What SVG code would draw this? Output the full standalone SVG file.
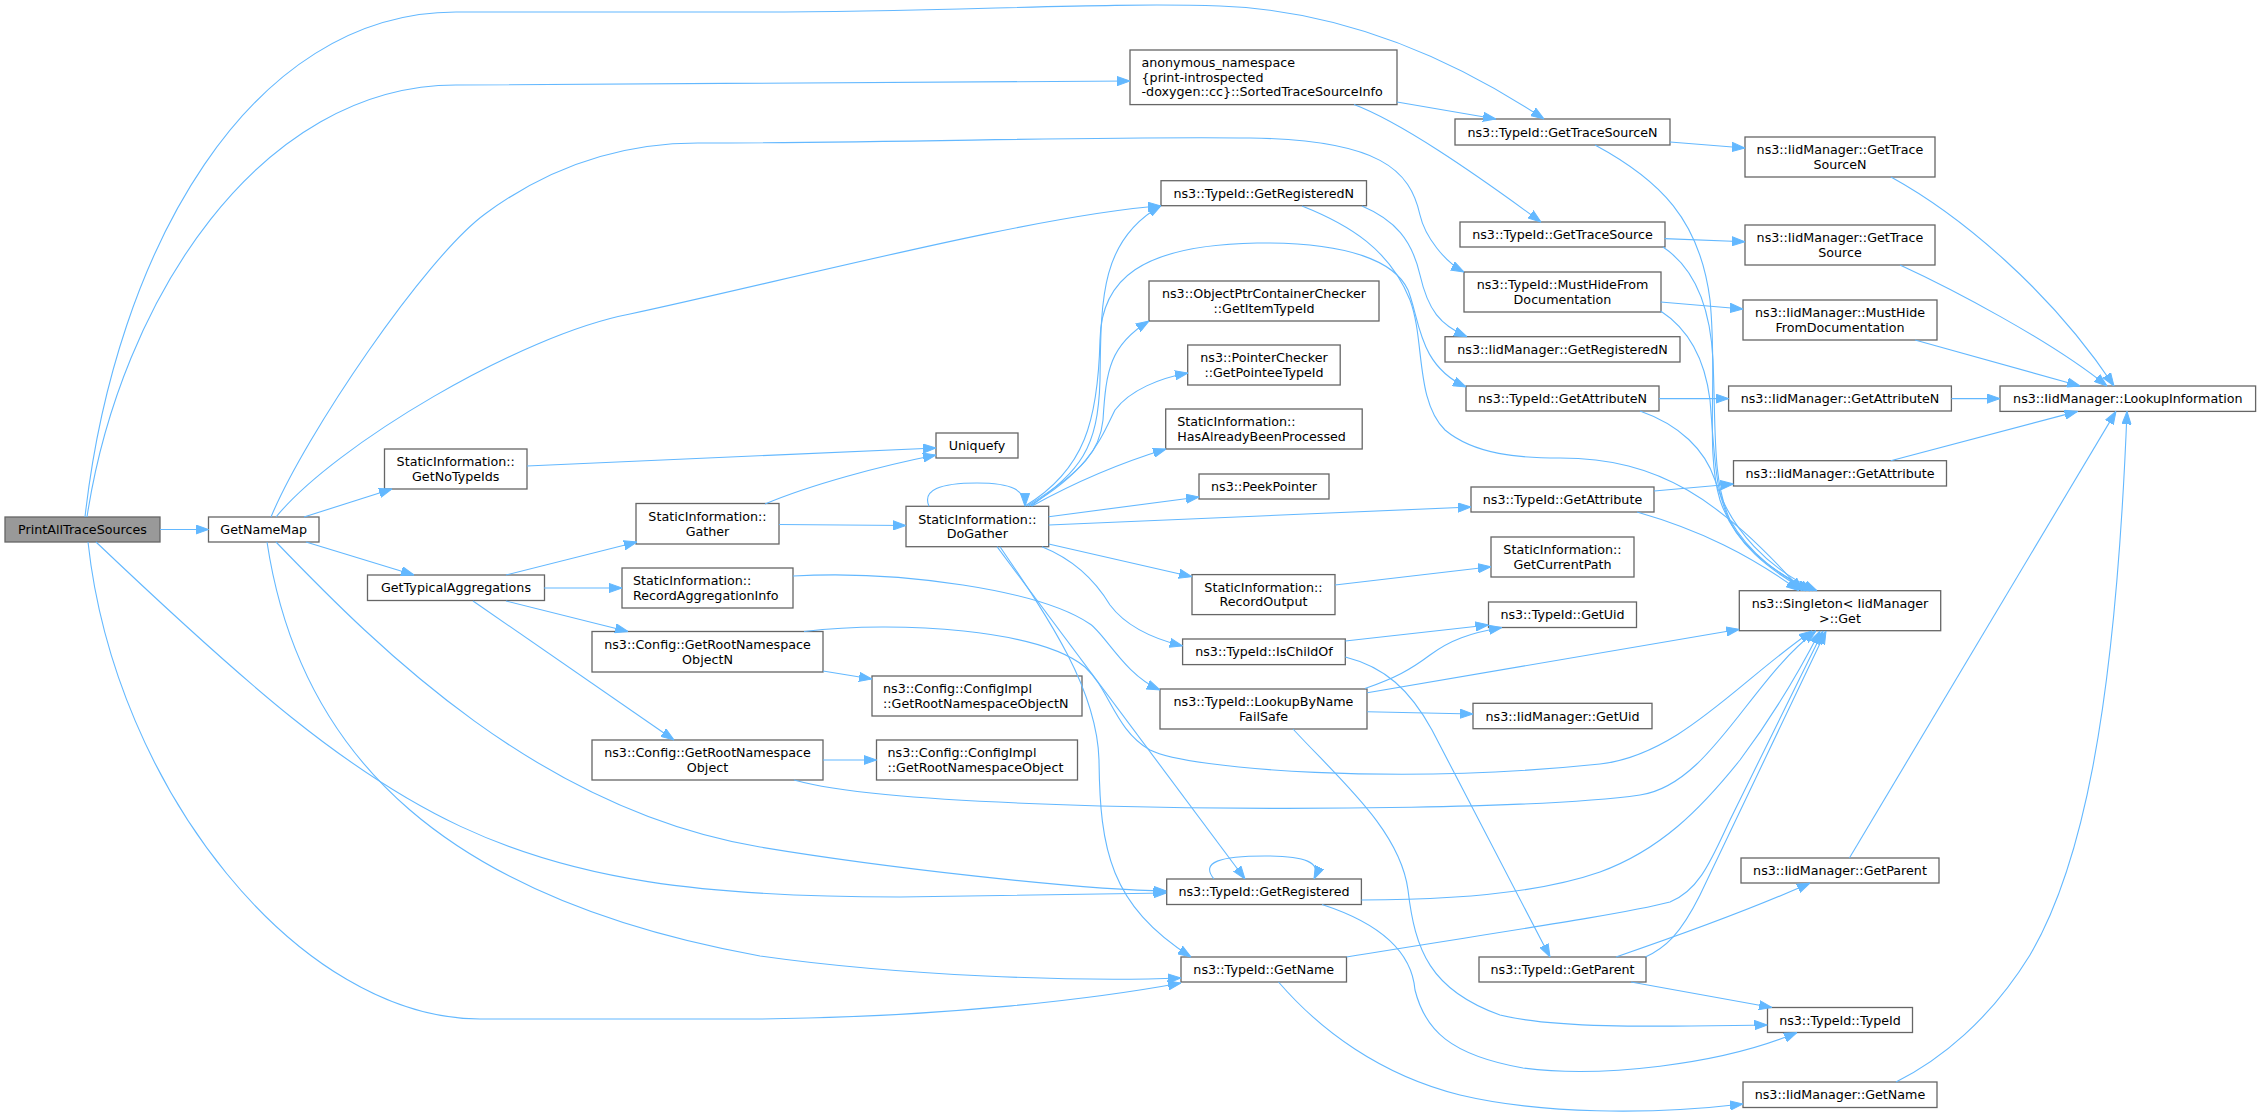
<svg xmlns="http://www.w3.org/2000/svg" width="2261" height="1120" viewBox="0 0 2261 1120">
<style>
.node rect{fill:#ffffff;stroke:#666666;stroke-width:1.3}
.root rect{fill:#999999}
text{font-family:"DejaVu Sans","Liberation Sans",sans-serif;font-size:12.7px;fill:#000000}
.c{text-anchor:middle}
.edges path{fill:none;stroke:#63b8ff;stroke-width:1.1;marker-end:url(#arr)}
</style>
<defs>
<marker id="arr" markerUnits="userSpaceOnUse" viewBox="0 0 13 10" markerWidth="13" markerHeight="10" refX="13" refY="5" orient="auto">
<path d="M0,0.4 L13,5 L0,9.6 z" fill="#63b8ff" stroke="#63b8ff" stroke-width="1"/>
</marker>
</defs>
<rect width="2261" height="1120" fill="#ffffff"/>
<g id="nodes">
<g id="n_PrintAllTraceSources" class="node root"><rect x="5" y="517" width="155" height="25"/><text class="c" x="82.5" y="534">PrintAllTraceSources</text></g>
<g id="n_GetNameMap" class="node"><rect x="208.5" y="517" width="110.5" height="25"/><text class="c" x="263.75" y="534">GetNameMap</text></g>
<g id="n_GetNoTypeIds" class="node"><rect x="384.5" y="449" width="142.5" height="40"/><text class="c" x="455.75" y="466.2">StaticInformation::</text><text class="c" x="455.75" y="480.8">GetNoTypeIds</text></g>
<g id="n_GetTypicalAggregations" class="node"><rect x="367.5" y="575" width="177" height="25.5"/><text class="c" x="456" y="592.2">GetTypicalAggregations</text></g>
<g id="n_Gather" class="node"><rect x="636" y="503.5" width="143" height="40.5"/><text class="c" x="707.5" y="520.9">StaticInformation::</text><text class="c" x="707.5" y="535.5">Gather</text></g>
<g id="n_RecordAggregationInfo" class="node"><rect x="622" y="568" width="171" height="40"/><text x="633" y="585.2">StaticInformation::</text><text x="633" y="599.8">RecordAggregationInfo</text></g>
<g id="n_GetRootNamespaceObjectN" class="node"><rect x="592" y="631.5" width="231" height="40.5"/><text class="c" x="707.5" y="648.9">ns3::Config::GetRootNamespace</text><text class="c" x="707.5" y="663.5">ObjectN</text></g>
<g id="n_GetRootNamespaceObject" class="node"><rect x="592" y="740" width="231" height="40"/><text class="c" x="707.5" y="757.2">ns3::Config::GetRootNamespace</text><text class="c" x="707.5" y="771.8">Object</text></g>
<g id="n_Uniquefy" class="node"><rect x="936" y="433" width="82" height="25"/><text class="c" x="977" y="450">Uniquefy</text></g>
<g id="n_DoGather" class="node"><rect x="906" y="506.3" width="142.7" height="40.4"/><text class="c" x="977.3" y="523.7">StaticInformation::</text><text class="c" x="977.3" y="538.3">DoGather</text></g>
<g id="n_ConfigImplObjectN" class="node"><rect x="872" y="676" width="210" height="40"/><text x="883" y="693.2">ns3::Config::ConfigImpl</text><text x="883" y="707.8">::GetRootNamespaceObjectN</text></g>
<g id="n_ConfigImplObject" class="node"><rect x="876.5" y="740" width="201" height="40"/><text x="887.5" y="757.2">ns3::Config::ConfigImpl</text><text x="887.5" y="771.8">::GetRootNamespaceObject</text></g>
<g id="n_SortedTraceSourceInfo" class="node"><rect x="1130" y="50" width="267" height="54.6"/><text x="1141.5" y="67">anonymous_namespace</text><text x="1141.5" y="81.5">{print-introspected</text><text x="1141.5" y="96">-doxygen::cc}::SortedTraceSourceInfo</text></g>
<g id="n_TypeIdGetRegisteredN" class="node"><rect x="1161" y="180.7" width="205.5" height="25"/><text class="c" x="1263.75" y="197.7">ns3::TypeId::GetRegisteredN</text></g>
<g id="n_GetItemTypeId" class="node"><rect x="1149" y="281" width="230" height="40"/><text class="c" x="1264" y="298.2">ns3::ObjectPtrContainerChecker</text><text class="c" x="1264" y="312.8">::GetItemTypeId</text></g>
<g id="n_GetPointeeTypeId" class="node"><rect x="1187.7" y="345" width="152.5" height="40"/><text class="c" x="1264" y="362.2">ns3::PointerChecker</text><text class="c" x="1264" y="376.8">::GetPointeeTypeId</text></g>
<g id="n_HasAlreadyBeenProcessed" class="node"><rect x="1165.7" y="409" width="196.5" height="40"/><text x="1177.3" y="426.2">StaticInformation::</text><text x="1177.3" y="440.8">HasAlreadyBeenProcessed</text></g>
<g id="n_PeekPointer" class="node"><rect x="1199" y="474" width="130" height="25"/><text class="c" x="1264" y="491">ns3::PeekPointer</text></g>
<g id="n_RecordOutput" class="node"><rect x="1192" y="574.6" width="143" height="40"/><text class="c" x="1263.5" y="591.8">StaticInformation::</text><text class="c" x="1263.5" y="606.4">RecordOutput</text></g>
<g id="n_IsChildOf" class="node"><rect x="1182.6" y="639" width="162.7" height="25.6"/><text class="c" x="1264" y="656.3">ns3::TypeId::IsChildOf</text></g>
<g id="n_LookupByNameFailSafe" class="node"><rect x="1160" y="689" width="207" height="40"/><text class="c" x="1263.5" y="706.2">ns3::TypeId::LookupByName</text><text class="c" x="1263.5" y="720.8">FailSafe</text></g>
<g id="n_TypeIdGetRegistered" class="node"><rect x="1166.7" y="879" width="194.7" height="25.5"/><text class="c" x="1264" y="896.2">ns3::TypeId::GetRegistered</text></g>
<g id="n_TypeIdGetName" class="node"><rect x="1181" y="957" width="165.5" height="25"/><text class="c" x="1263.75" y="974">ns3::TypeId::GetName</text></g>
<g id="n_TypeIdGetTraceSourceN" class="node"><rect x="1455" y="119" width="215" height="26"/><text class="c" x="1562.5" y="136.5">ns3::TypeId::GetTraceSourceN</text></g>
<g id="n_TypeIdGetTraceSource" class="node"><rect x="1460" y="222" width="205" height="25"/><text class="c" x="1562.5" y="239">ns3::TypeId::GetTraceSource</text></g>
<g id="n_TypeIdMustHide" class="node"><rect x="1464" y="272" width="197" height="40"/><text class="c" x="1562.5" y="289.2">ns3::TypeId::MustHideFrom</text><text class="c" x="1562.5" y="303.8">Documentation</text></g>
<g id="n_IidGetRegisteredN" class="node"><rect x="1445" y="336.7" width="235" height="25.3"/><text class="c" x="1562.5" y="353.8">ns3::IidManager::GetRegisteredN</text></g>
<g id="n_TypeIdGetAttributeN" class="node"><rect x="1466" y="386" width="193" height="25"/><text class="c" x="1562.5" y="403">ns3::TypeId::GetAttributeN</text></g>
<g id="n_TypeIdGetAttribute" class="node"><rect x="1471" y="487" width="183" height="25"/><text class="c" x="1562.5" y="504">ns3::TypeId::GetAttribute</text></g>
<g id="n_GetCurrentPath" class="node"><rect x="1491" y="537" width="143" height="40"/><text class="c" x="1562.5" y="554.2">StaticInformation::</text><text class="c" x="1562.5" y="568.8">GetCurrentPath</text></g>
<g id="n_TypeIdGetUid" class="node"><rect x="1488.5" y="602" width="148" height="25.5"/><text class="c" x="1562.5" y="619.2">ns3::TypeId::GetUid</text></g>
<g id="n_IidGetUid" class="node"><rect x="1473" y="703.3" width="179" height="25.4"/><text class="c" x="1562.5" y="720.5">ns3::IidManager::GetUid</text></g>
<g id="n_TypeIdGetParent" class="node"><rect x="1479" y="957" width="167" height="25"/><text class="c" x="1562.5" y="974">ns3::TypeId::GetParent</text></g>
<g id="n_IidGetTraceSourceN" class="node"><rect x="1745" y="137" width="190" height="40"/><text class="c" x="1840" y="154.2">ns3::IidManager::GetTrace</text><text class="c" x="1840" y="168.8">SourceN</text></g>
<g id="n_IidGetTraceSource" class="node"><rect x="1745" y="225" width="190" height="40"/><text class="c" x="1840" y="242.2">ns3::IidManager::GetTrace</text><text class="c" x="1840" y="256.8">Source</text></g>
<g id="n_IidMustHide" class="node"><rect x="1743" y="300" width="194" height="40"/><text class="c" x="1840" y="317.2">ns3::IidManager::MustHide</text><text class="c" x="1840" y="331.8">FromDocumentation</text></g>
<g id="n_IidGetAttributeN" class="node"><rect x="1728.6" y="386" width="222.8" height="25"/><text class="c" x="1840" y="403">ns3::IidManager::GetAttributeN</text></g>
<g id="n_IidGetAttribute" class="node"><rect x="1733.5" y="460.7" width="213" height="25.3"/><text class="c" x="1840" y="477.8">ns3::IidManager::GetAttribute</text></g>
<g id="n_SingletonGet" class="node"><rect x="1739.3" y="590.7" width="201.4" height="40"/><text class="c" x="1840" y="607.9">ns3::Singleton&lt; IidManager</text><text class="c" x="1840" y="622.5">&gt;::Get</text></g>
<g id="n_IidGetParent" class="node"><rect x="1741" y="858" width="198" height="25"/><text class="c" x="1840" y="875">ns3::IidManager::GetParent</text></g>
<g id="n_TypeIdTypeId" class="node"><rect x="1767.5" y="1007.5" width="145" height="25"/><text class="c" x="1840" y="1024.5">ns3::TypeId::TypeId</text></g>
<g id="n_IidGetName" class="node"><rect x="1743" y="1082" width="194" height="25.5"/><text class="c" x="1840" y="1099.2">ns3::IidManager::GetName</text></g>
<g id="n_LookupInformation" class="node"><rect x="2000" y="386" width="255.6" height="25.4"/><text class="c" x="2127.8" y="403.2">ns3::IidManager::LookupInformation</text></g>
</g>
<g id="edges" class="edges">
<path d="M160,529.5 L208.5,529.5"/>
<path d="M85,517 C115,250 250,12 456,12 L760,12 C950,12 1100,2 1220,6 C1330,10 1440,50 1544,119"/>
<path d="M87,517 C120,300 260,85 456,85 L1130,81"/>
<path d="M96,542 C396,827 500,897 900,897 L1166.5,893"/>
<path d="M88,542 C115,790 300,1019 480,1019 L760,1019 C950,1017 1100,998 1181,983"/>
<path d="M304,517 L392,489"/>
<path d="M306,542 L414,575"/>
<path d="M271,517 C305,435 425,258 485,214 C565,155 640,143 698,143 C900,143 1100,136 1250,138 C1380,140 1410,170 1420,215 C1425,237 1445,262 1464,272"/>
<path d="M276,517 C335,445 520,335 630,314 C780,282 1040,214 1161,206"/>
<path d="M276,542 C380,650 540,810 760,847 C880,867 1080,890 1166.5,891"/>
<path d="M267,542 C300,760 450,900 760,956 C900,976 1080,982 1181,978"/>
<path d="M527,466 L936,448"/>
<path d="M765,504 C810,485 880,466 936,455"/>
<path d="M779,524.5 L906,525.5"/>
<path d="M506,575 L637,542"/>
<path d="M544,588 L622,588"/>
<path d="M506,601 L628,631.5"/>
<path d="M473,601 L674,740"/>
<path d="M793,576 C900,570 1040,590 1090,624 C1105,634 1125,675 1160,690"/>
<path d="M823,671 L872,679"/>
<path d="M804,631.5 C900,620 1040,630 1085,667 C1110,690 1115,730 1150,750 C1190,770 1400,785 1600,764 C1680,755 1740,680 1812,631"/>
<path d="M823,760 L876.5,760"/>
<path d="M794,780 C830,790 900,800 1100,806 C1300,811 1550,808 1640,795 C1710,785 1750,680 1816,631"/>
<path d="M929,506.3 C922,490 940,483 977,483 C1012,483 1025,490 1025,506.3"/>
<path d="M1031,506 C1080,470 1098,450 1100,380 C1101,300 1100,240 1161,205.7"/>
<path d="M1027,506 C1085,470 1100,450 1103,420 C1106,370 1110,345 1149,321"/>
<path d="M1029,506 C1090,470 1100,440 1115,410 C1130,390 1160,378 1188,373"/>
<path d="M1032,506 C1070,485 1120,463 1166,449"/>
<path d="M1048.7,516.7 L1199,497"/>
<path d="M1048.7,525 C1200,518 1350,512 1471,507"/>
<path d="M1048.7,544 L1192,576.7"/>
<path d="M1042,546.7 C1075,560 1095,580 1110,605 C1125,625 1150,638 1182.6,646"/>
<path d="M1025,506 C1085,470 1098,420 1100,340 C1101,280 1140,245 1257,243 C1350,242 1395,262 1408,290 C1420,320 1418,365 1466,387"/>
<path d="M997,546.7 L1245,879"/>
<path d="M1000,546.7 C1050,620 1097,690 1099,760 C1100,850 1110,905 1191,957"/>
<path d="M1335,585 L1491,566.7"/>
<path d="M1345.3,641 L1488.5,625"/>
<path d="M1345.3,657 C1385,667 1410,690 1432,730 L1550,957"/>
<path d="M1365,688.5 C1395,678 1410,670 1430,655 C1450,640 1470,633 1502,627.5"/>
<path d="M1367.3,692.7 L1739.3,629.3"/>
<path d="M1367.3,711.7 L1473,714"/>
<path d="M1293,729 C1340,780 1400,830 1408,890 C1415,950 1430,990 1500,1015 C1560,1030 1680,1026 1767.5,1025"/>
<path d="M1214,879 C1200,862 1220,856 1265,856 C1305,856 1322,862 1314,879"/>
<path d="M1361.4,900 C1450,900 1540,893 1600,872 C1660,850 1700,810 1740,760 C1770,720 1800,670 1820,631"/>
<path d="M1322,904.5 C1385,925 1412,955 1415,990 C1425,1030 1450,1055 1523,1068 C1600,1078 1720,1065 1797,1032.5"/>
<path d="M1346.5,957 C1480,935 1620,915 1670,902 C1700,890 1712,858 1730,820 L1823,631"/>
<path d="M1645.4,957 C1665,948 1680,935 1700,895 L1826,631"/>
<path d="M1616,957 C1680,935 1750,910 1810,883"/>
<path d="M1631,982 L1772,1007.5"/>
<path d="M1278.5,982 C1320,1030 1380,1075 1460,1095 C1540,1114 1650,1115 1743,1104"/>
<path d="M1896,1082 C1940,1060 1990,1020 2030,955 C2080,870 2115,720 2127,411.4"/>
<path d="M1849.4,858 L2116,411.4"/>
<path d="M1890.7,460.7 L2077.5,411.4"/>
<path d="M1951.4,398.6 L2000,398.6"/>
<path d="M1915,340 L2080,386"/>
<path d="M1900,265 C1950,288 2050,340 2107,386"/>
<path d="M1891,177 C1960,215 2050,290 2114,386"/>
<path d="M1670,142 L1745,148"/>
<path d="M1595,145 C1660,180 1700,220 1710,300 C1718,380 1705,450 1720,500 C1735,545 1770,570 1806,590.7"/>
<path d="M1664.5,238.6 L1745,241.8"/>
<path d="M1663,247 C1690,265 1710,300 1713,360 C1716,430 1712,480 1730,520 C1750,555 1780,575 1810,590.7"/>
<path d="M1660.6,302 L1743,309"/>
<path d="M1660.6,311 C1690,330 1705,360 1710,400 C1715,460 1715,500 1735,530 C1755,560 1785,578 1813,590.7"/>
<path d="M1659,398.6 L1728.6,398.6"/>
<path d="M1640,411 C1680,425 1705,450 1715,480 C1730,530 1770,570 1817,590.7"/>
<path d="M1654,491 L1733.5,484"/>
<path d="M1637,512 C1700,530 1750,555 1799,590.7"/>
<path d="M1362,206 C1395,220 1412,240 1420,275 C1428,310 1440,325 1467,336.7"/>
<path d="M1302,206 C1350,225 1390,250 1410,300 C1425,340 1415,400 1445,430 C1475,455 1520,458 1560,458 C1660,458 1720,500 1802,590.7"/>
<path d="M1397,102 L1496,119"/>
<path d="M1354,104.6 C1400,122 1470,170 1541,222"/>
</g>
</svg>
